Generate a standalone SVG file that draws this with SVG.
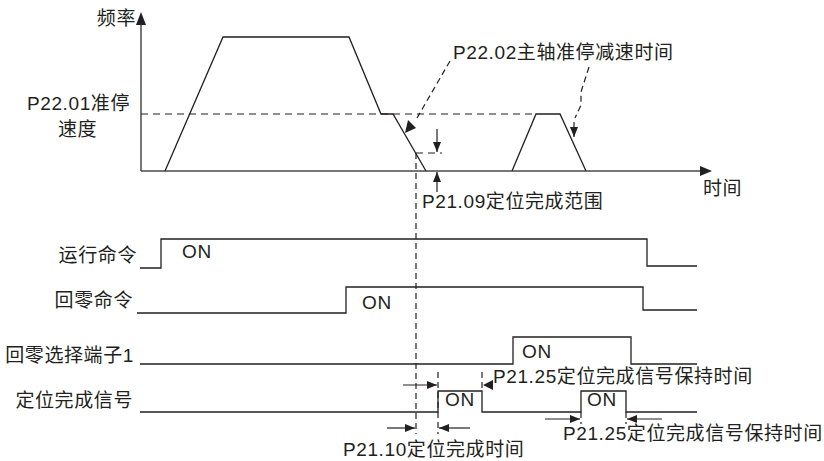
<svg xmlns="http://www.w3.org/2000/svg" width="824" height="461" viewBox="0 0 824 461">
<style>
.ln{fill:none;stroke:#231f20;stroke-width:1.3}
.ax{fill:none;stroke:#4a4a4a;stroke-width:1.5}
.ds{fill:none;stroke:#231f20;stroke-width:1.2;stroke-dasharray:7,5}
.dv{fill:none;stroke:#231f20;stroke-width:1.2;stroke-dasharray:6,4}
.ar{fill:none;stroke:#231f20;stroke-width:1.2}
.hd{fill:#231f20}
text{font-family:"Liberation Sans","Noto Sans CJK SC",sans-serif;font-size:19px;fill:#231f20;letter-spacing:0.6px}
.e{text-anchor:end}
</style>
<defs>
<marker id="arr" viewBox="0 0 10 8" refX="10" refY="4" markerWidth="10" markerHeight="8" markerUnits="userSpaceOnUse" orient="auto">
<path d="M0,0 L10,4 L0,8 Z" class="hd"/>
</marker>
</defs>
<rect width="824" height="461" fill="#ffffff"/>

<g id="axes">
<line class="ax" x1="141" y1="171" x2="141" y2="22"/>
<path class="hd" d="M141,12 L136,25 L146,25 Z"/>
<line class="ax" x1="141" y1="171" x2="702" y2="171"/>
<path class="hd" d="M712,171 L700,166 L700,176 Z"/>
<text class="e" x="136" y="25">频率</text>
<text x="703" y="195">时间</text>
</g>

<g id="speed-curve">
<polyline class="ln" points="165,171 223,37 349,37 381,114 393,114 426,171"/>
<polyline class="ln" points="512,171 536,114 560,114 586,171"/>
<line class="ds" x1="141" y1="114" x2="536" y2="114"/>
<text x="27" y="110">P22.01准停</text>
<text x="58" y="136">速度</text>
</g>

<g id="range-annotation">
<line class="ds" x1="416" y1="153" x2="442" y2="153"/>
<line class="ar" x1="437" y1="129" x2="437" y2="152" marker-end="url(#arr)"/>
<line class="ar" x1="437" y1="192" x2="437" y2="172" marker-end="url(#arr)"/>
<text x="422" y="208">P21.09定位完成范围</text>
</g>

<g id="decel-annotation">
<text x="453" y="59">P22.02主轴准停减速时间</text>
<line class="dv" x1="450" y1="61" x2="417" y2="118"/>
<path class="hd" d="M405,133 L408,120 L416,128 Z"/>
<polyline class="dv" points="589,67 581,92 581,105 575,118"/>
<line class="ar" x1="574" y1="122" x2="574" y2="137" marker-end="url(#arr)"/>
</g>

<g id="sync-line">
<line class="dv" x1="416" y1="153" x2="416" y2="434"/>
</g>

<g id="run-command">
<polyline class="ln" points="140,268 161,268 161,239 647,239 647,266 697,266"/>
<text class="e" x="137" y="262">运行命令</text>
<text x="182" y="258">ON</text>
</g>

<g id="home-command">
<polyline class="ln" points="137,313 346,313 346,287 643,287 643,310 697,310"/>
<text class="e" x="133" y="307">回零命令</text>
<text x="362" y="309">ON</text>
</g>

<g id="home-select">
<polyline class="ln" points="140,364 513,364 513,337 631,337 631,364 697,364"/>
<text class="e" x="134" y="362">回零选择端子1</text>
<text x="522" y="358">ON</text>
</g>

<g id="position-done">
<polyline class="ln" points="140,412 438,412 438,391 482,391 482,412 581,412 581,391 626,391 626,412 697,412"/>
<text class="e" x="133" y="407">定位完成信号</text>
<text x="445" y="406">ON</text>
<text x="587" y="406">ON</text>
</g>

<g id="connectors">
<line class="dv" x1="438" y1="372" x2="438" y2="434"/>
<line class="dv" x1="482" y1="372" x2="482" y2="391"/>
<line class="dv" x1="581" y1="412" x2="581" y2="424"/>
<line class="dv" x1="626" y1="412" x2="626" y2="424"/>
<line class="ar" x1="403" y1="385" x2="437" y2="385" marker-end="url(#arr)"/>
<path class="hd" d="M483,385 L493,380 L493,390 Z"/>
<line class="ar" x1="387" y1="428" x2="415" y2="428" marker-end="url(#arr)"/>
<line class="ar" x1="470" y1="428" x2="439" y2="428" marker-end="url(#arr)"/>
<line class="ar" x1="545" y1="419" x2="580" y2="419" marker-end="url(#arr)"/>
<line class="ar" x1="662" y1="419" x2="627" y2="419" marker-end="url(#arr)"/>
<text x="493" y="383">P21.25定位完成信号保持时间</text>
<text x="343" y="456">P21.10定位完成时间</text>
<text x="563" y="440">P21.25定位完成信号保持时间</text>
</g>
</svg>
